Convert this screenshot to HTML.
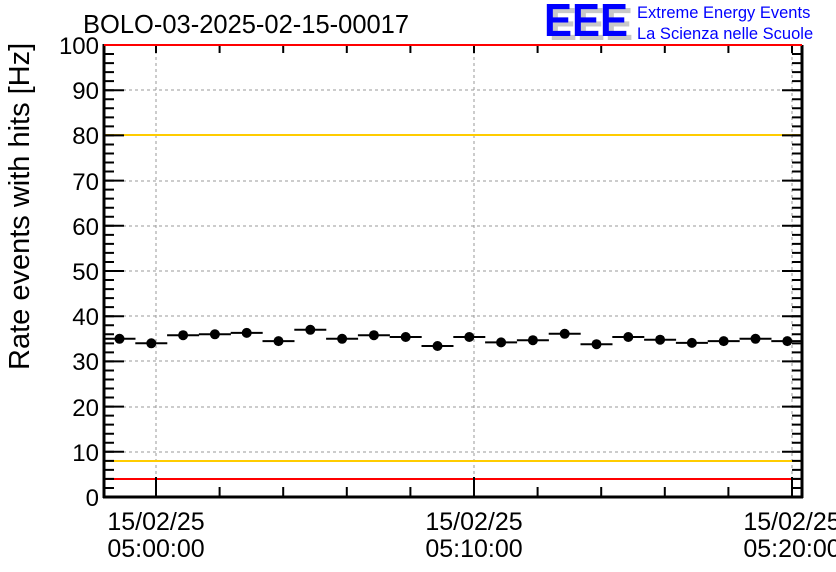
<!DOCTYPE html>
<html><head><style>body{margin:0;background:#fff}svg{display:block}</style></head><body>
<svg width="836" height="572" xmlns="http://www.w3.org/2000/svg" font-family="Liberation Sans, sans-serif">
<rect width="836" height="572" fill="#fff"/>
<g stroke="#999" stroke-dasharray="3,3" stroke-width="1">
<line x1="105" x2="802" y1="90" y2="90"/><line x1="105" x2="802" y1="135" y2="135"/><line x1="105" x2="802" y1="181" y2="181"/><line x1="105" x2="802" y1="226" y2="226"/><line x1="105" x2="802" y1="271" y2="271"/><line x1="105" x2="802" y1="316" y2="316"/><line x1="105" x2="802" y1="361" y2="361"/><line x1="105" x2="802" y1="407" y2="407"/><line x1="105" x2="802" y1="452" y2="452"/>
<line x1="156" x2="156" y1="45" y2="497"/><line x1="474" x2="474" y1="45" y2="497"/><line x1="792" x2="792" y1="45" y2="497"/>
</g>
<line x1="105" x2="802" y1="135" y2="135" stroke="#ffcc00" stroke-width="2"/>
<line x1="105" x2="802" y1="461" y2="461" stroke="#ffcc00" stroke-width="2"/>
<line x1="105" x2="802" y1="479" y2="479" stroke="#ff0000" stroke-width="2"/>
<path stroke="#000" stroke-width="2" fill="none" d="M103.5 338.8h32M135.3 343.3h32M167.1 335.2h32M198.9 334.3h32M230.7 332.9h32M262.5 341.1h32M294.3 329.8h32M326.1 338.8h32M357.9 335.2h32M389.7 337h32M421.5 346h32M453.3 337h32M485.1 342.4h32M516.9 340.2h32M548.7 333.8h32M580.5 344.2h32M612.3 337h32M644.1 339.7h32M675.9 342.9h32M707.7 341.1h32M739.5 338.8h32M771.3 341.1h30"/>
<g fill="#000">
<circle cx="119.5" cy="338.8" r="5"/><circle cx="151.3" cy="343.3" r="5"/><circle cx="183.1" cy="335.2" r="5"/><circle cx="214.9" cy="334.3" r="5"/><circle cx="246.7" cy="332.9" r="5"/><circle cx="278.5" cy="341.1" r="5"/><circle cx="310.3" cy="329.8" r="5"/><circle cx="342.1" cy="338.8" r="5"/><circle cx="373.9" cy="335.2" r="5"/><circle cx="405.7" cy="337" r="5"/><circle cx="437.5" cy="346" r="5"/><circle cx="469.3" cy="337" r="5"/><circle cx="501.1" cy="342.4" r="5"/><circle cx="532.9" cy="340.2" r="5"/><circle cx="564.7" cy="333.8" r="5"/><circle cx="596.5" cy="344.2" r="5"/><circle cx="628.3" cy="337" r="5"/><circle cx="660.1" cy="339.7" r="5"/><circle cx="691.9" cy="342.9" r="5"/><circle cx="723.7" cy="341.1" r="5"/><circle cx="755.5" cy="338.8" r="5"/><circle cx="787.3" cy="341.1" r="5"/>
</g>
<g stroke="#000" fill="none">
<line x1="104" y1="44" x2="104" y2="498" stroke-width="3"/>
<line x1="103" y1="497" x2="803" y2="497" stroke-width="3"/>
<line x1="802" y1="45" x2="802" y2="498" stroke-width="3"/>
<line x1="109" y1="498" x2="109" y2="44" stroke-width="10" stroke-dasharray="2 7.04"/>
<line x1="114" y1="498" x2="114" y2="44" stroke-width="20" stroke-dasharray="2 43.2"/>
<line x1="797" y1="498" x2="797" y2="44" stroke-width="10" stroke-dasharray="2 7.04"/>
<line x1="792" y1="498" x2="792" y2="44" stroke-width="20" stroke-dasharray="2 43.2"/>
<line x1="155" y1="492" x2="803" y2="492" stroke-width="10" stroke-dasharray="2 61.6"/>
<line x1="155" y1="487" x2="803" y2="487" stroke-width="20" stroke-dasharray="2 316"/>
<line x1="155" y1="49" x2="803" y2="49" stroke-width="8" stroke-dasharray="2 61.6"/>
</g>
<line x1="104" x2="802" y1="45" y2="45" stroke="#ff0000" stroke-width="2"/>
<g font-size="24" fill="#000" text-anchor="end">
<text x="99" y="54">100</text><text x="99" y="99">90</text><text x="99" y="144">80</text><text x="99" y="190">70</text><text x="99" y="235">60</text><text x="99" y="280">50</text><text x="99" y="325">40</text><text x="99" y="370">30</text><text x="99" y="416">20</text><text x="99" y="461">10</text><text x="99" y="506">0</text>
</g>
<g font-size="25" fill="#000" text-anchor="middle">
<text x="156" y="530">15/02/25</text><text x="156" y="557">05:00:00</text>
<text x="474" y="530">15/02/25</text><text x="474" y="557">05:10:00</text>
<text x="792" y="530">15/02/25</text><text x="792" y="557">05:20:00</text>
</g>
<text x="83" y="33" font-size="25.5">BOLO-03-2025-02-15-00017</text>
<text transform="translate(29,370) rotate(-90)" font-size="29">Rate events with hits [Hz]</text>
<g font-size="46" font-weight="bold">
<text x="549" y="40" fill="#c8c8c8" textLength="84" lengthAdjust="spacingAndGlyphs">EEE</text>
<text x="544" y="36" fill="#0000ff" textLength="84" lengthAdjust="spacingAndGlyphs">EEE</text>
</g>
<text x="637" y="18" font-size="16.5" fill="#0000ff">Extreme Energy Events</text>
<text x="637" y="39" font-size="16.5" fill="#0000ff">La Scienza nelle Scuole</text>
</svg>
</body></html>
